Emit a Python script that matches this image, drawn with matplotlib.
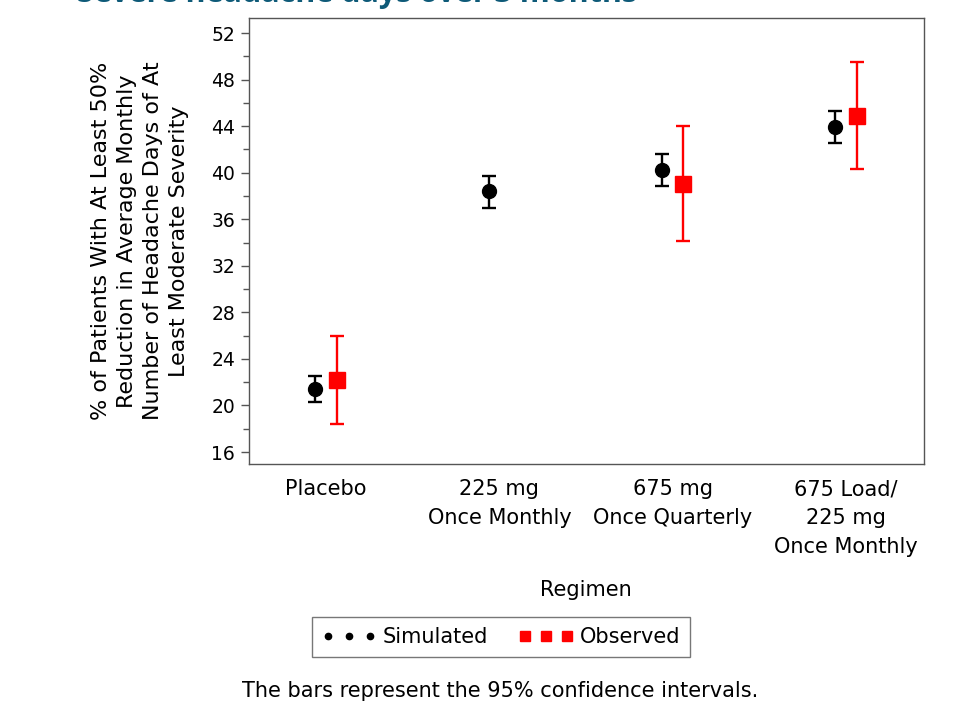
import numpy as np
import matplotlib.pyplot as plt
from matplotlib.lines import Line2D

plt.rcParams['font.family'] = ['DejaVu Sans']

# data
regimens = ['Placebo', '225 mg\nOnce Monthly', '675 mg\nOnce Quarterly', '675 Load/\n225 mg\nOnce Monthly']
sim_mean = [21.4, 38.4, 40.2, 43.9]
sim_low = [20.3, 37.0, 38.9, 42.6]
sim_high = [22.5, 39.7, 41.6, 45.3]
obs_idx = [0, 2, 3]
obs_mean = [22.2, 39.0, 44.9]
obs_low = [18.4, 34.1, 40.3]
obs_high = [26.0, 44.0, 49.5]

x = np.arange(len(regimens))
off = 0.062
fs = 15

fig = plt.figure(figsize=(9.8, 7.03), dpi=100)
ax = fig.add_axes([249/980, 1-464/703, (924-249)/980, (464-18)/703])

sm = np.array(sim_mean)
ax.errorbar(x - off, sm, yerr=[sm - np.array(sim_low), np.array(sim_high) - sm],
            fmt='o', color='black', ms=10, elinewidth=1.7, capsize=4.8, capthick=1.7)
om = np.array(obs_mean)
ax.errorbar(np.array(obs_idx) + off, om, yerr=[om - np.array(obs_low), np.array(obs_high) - om],
            fmt='s', color='red', ms=11, elinewidth=1.7, capsize=4.8, capthick=1.7)

ax.set_xlim(-0.445, 3.45)
ax.set_ylim(14.97, 53.3)
ax.set_yticks(np.arange(16, 53, 4))
ax.set_yticks(np.arange(18, 53, 4), minor=True)
ax.set_xticks(x)
ax.set_xticklabels(regimens, fontsize=fs, linespacing=1.55)
ax.tick_params(axis='y', labelsize=13.5, color='#555555', length=6, width=1, pad=4)
ax.tick_params(axis='y', which='minor', color='#555555', length=4, width=1)
ax.tick_params(axis='x', length=0, pad=11)
for s in ax.spines.values():
    s.set_color('#555555')
    s.set_linewidth(1)

ax.set_ylabel('% of Patients With At Least 50%\nReduction in Average Monthly\nNumber of Headache Days of At\nLeast Moderate Severity',
              fontsize=16, linespacing=1.38, labelpad=16)
fig.text(586/980, 1-590/703, 'Regimen', fontsize=fs, ha='center', va='center')

handles = [Line2D([], [], ls='none', marker='o', color='black', ms=4.5),
           Line2D([], [], ls='none', marker='s', color='red', ms=7)]
leg = fig.legend(handles, ['Simulated', 'Observed'], loc='center', bbox_to_anchor=(501/980, 1-637/703),
                 ncol=2, numpoints=3, fontsize=fs, frameon=True, fancybox=False,
                 edgecolor='#555555', handlelength=2.6, handletextpad=0.3, columnspacing=1.5,
                 borderpad=0.5)
leg.get_frame().set_linewidth(1)

fig.text(500/980, 1-691/703, 'The bars represent the 95% confidence intervals.', fontsize=fs,
         ha='center', va='center')
fig.text(77/980, 1-2/703, 'Severe headache days over 3 months', fontsize=22, fontweight='bold',
         color='#0e5a78', ha='left', va='baseline', family=['Open Sans', 'DejaVu Sans'])

fig.savefig('out.png', dpi=100)
